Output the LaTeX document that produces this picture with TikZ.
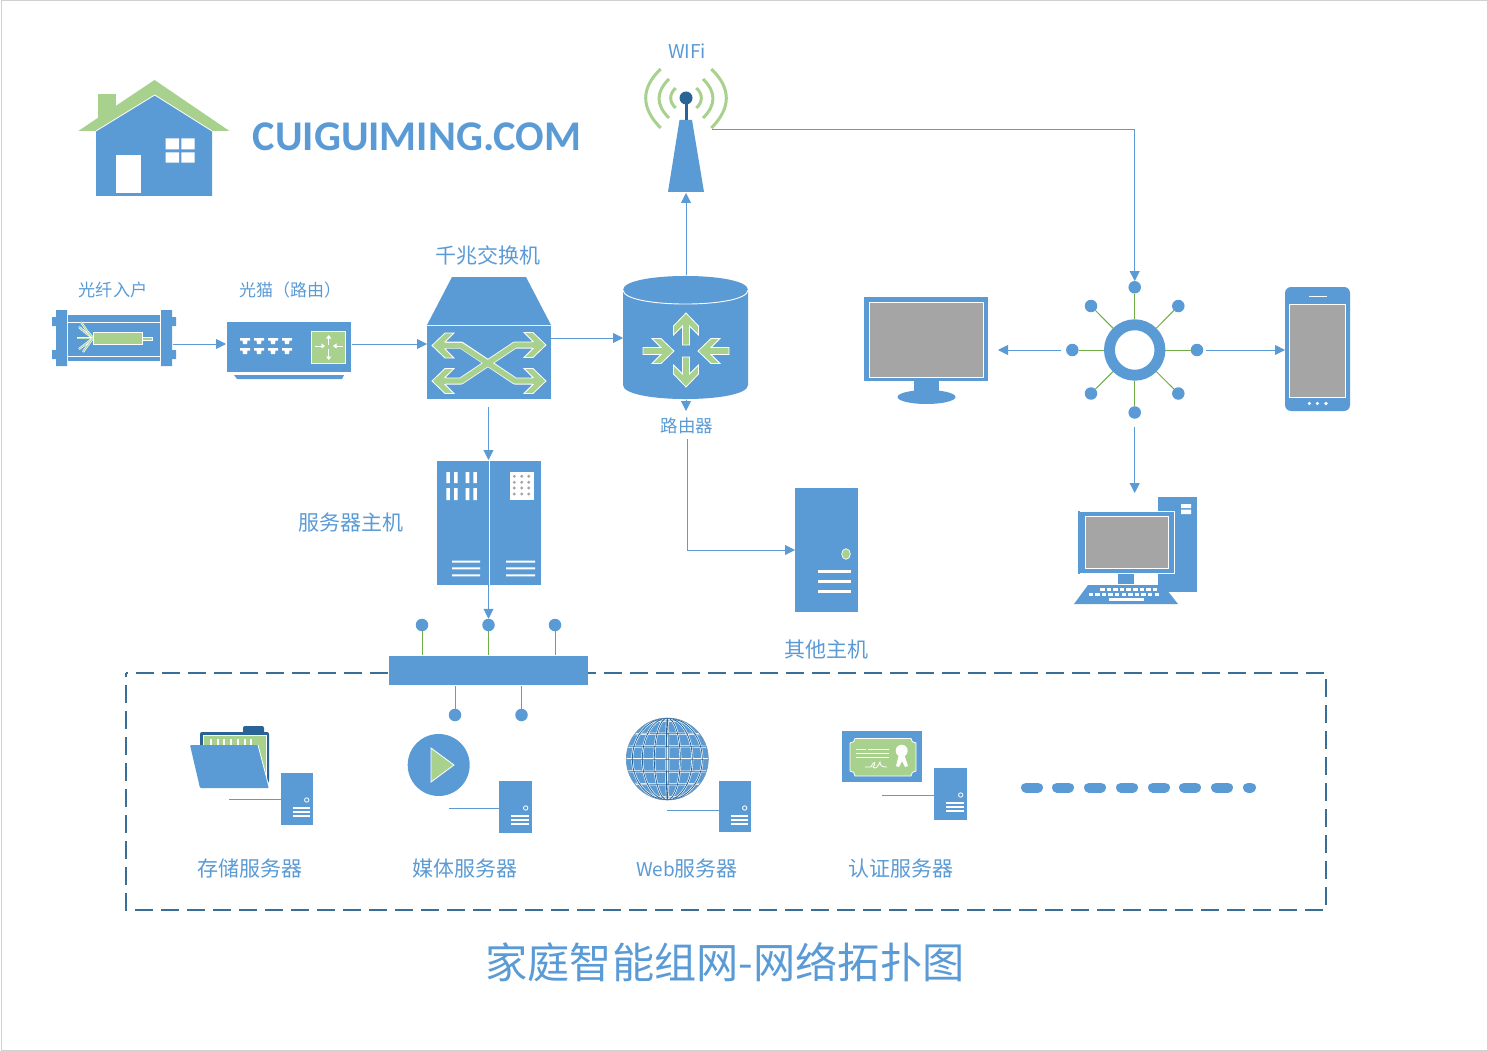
\documentclass[tikz,border=0pt]{standalone}
\usepackage{fontspec}
\setmainfont{Liberation Sans}
\newfontfamily\cjk{Noto Sans CJK SC}
\newfontfamily\carl{Carlito}
\usetikzlibrary{arrows.meta,calc}
\definecolor{mblue}{HTML}{5B9BD5}
\definecolor{mgreen}{HTML}{A9D18E}
\definecolor{sgreen}{HTML}{70AD47}
\definecolor{dblue}{HTML}{2A6496}
\definecolor{fgray}{HTML}{A5A5A5}
\definecolor{frame}{HTML}{3A6F95}
\tikzset{
  conn/.style={draw=mblue,line width=0.9pt,-{Triangle[length=10pt,width=10pt]}},
  plainconn/.style={draw=mblue,line width=0.9pt},
  gline/.style={draw=sgreen,line width=1pt},
  iconbox/.style={inner sep=0pt,outer sep=0pt,draw=none,fill=none,rectangle},
  dotnode/.style={circle,fill=mblue,draw=none,inner sep=0pt,outer sep=0pt,minimum size=12.5pt},
  gfill/.style={fill=mgreen,draw=white,line width=0.8pt,line join=miter},
  lbl/.style={text=mblue,inner sep=0pt,font=\cjk},
  whitebar/.style={fill=white,draw=none}
}
% invisible named box given by its corners
\newcommand\ibox[5]{\node[iconbox,minimum width={(#4-#2)*1pt},minimum height={(#5-#3)*1pt}] (#1) at ({(#2+#4)/2},{(#3+#5)/2}) {};}
% notched arrow: tip x, tip y, paper angle, length
\newcommand\ntch[4]{\draw[gfill,shift={(#1,#2)},rotate=#3] (0,0) -- (-13,-12.5) -- (-22,-12.5) -- (-13,-3.5) -- (-#4,-3.5) -- (-#4,3.5) -- (-13,3.5) -- (-22,12.5) -- (-13,12.5) -- cycle;}
% small server: x1 y1 x2 y2
\newcommand\srv[5]{\ibox{#1}{#2}{#3}{#4}{#5}
  \fill[mblue] (#2,#3) rectangle (#4,#5);
  \draw[white,line width=0.8pt] ({#4-6.3},{#3+27}) circle[radius=2.2pt];
  \fill[white] ({#2+12},{#3+34}) rectangle ({#4-3},{#3+35.6});
  \fill[white] ({#2+12},{#3+38}) rectangle ({#4-3},{#3+39.6});
  \fill[white] ({#2+12},{#3+42.2}) rectangle ({#4-3},{#3+43.8});}
\newcommand\fz[1]{\fontsize{#1}{#1}\selectfont}
\begin{document}
\begin{tikzpicture}[x=1pt,y=-1pt]
\useasboundingbox (0,0) rectangle (1488,1051);
\fill[white] (0,0) rectangle (1488,1051);
\draw[black!18,line width=1pt] (1,0.5) rectangle (1487,1050);

% ---------- house
\ibox{house}{78}{80}{230}{196}
\fill[mgreen] (98,94) rectangle (116,120);
\fill[mgreen] (78.3,131) -- (154.5,80) -- (229.5,131) -- cycle;
\fill[mblue] (96,196) -- (96,131) -- (154.7,95) -- (212,131) -- (212,196) -- cycle;
\draw[white,line width=0.8pt] (96,131) -- (154.7,95) -- (212,131);
\fill[white] (116,155) rectangle (140.7,192.7);
\fill[white] (165.7,138.3) rectangle (179,149.3) (181.3,138.3) rectangle (194.7,149.3) (165.7,152.3) rectangle (179,162.7) (181.3,152.3) rectangle (194.7,162.7);
\node[text=mblue,inner sep=0pt,font=\carl\bfseries\fz{42.3}] (brand) at (417,137) {CUIGUIMING.COM};

% ---------- fibre entry
\ibox{fiber}{52}{310}{173}{366}
\fill[mblue] (68,315) rectangle (160,361);
\fill[mblue] (56,310) rectangle (67,366) (161,310) rectangle (172,366);
\fill[mblue] (52,317) rectangle (56,326) (52,350) rectangle (56,359) (172,317) rectangle (176,326) (172,350) rectangle (176,359);
\draw[white,line width=0.8pt] (68,322) -- (160,322) (68,356) -- (160,356);
\foreach \a/\b/\c/\d in {77/338/86/338,79/327/86/333,81/322/87/331,79/349/87/343,83/352/88/345}{
  \draw[white,line width=2.2pt] (\a,\b) -- (\c,\d) -- (93,338);
  \draw[mgreen,line width=0.9pt] (\a,\b) -- (\c,\d) -- (93,338);}
\draw[gfill] (93,332) rectangle (142,344);
\draw[gfill] (142,337) rectangle (152,340);

% ---------- modem
\ibox{modem}{226}{322}{351}{372}
\fill[mblue] (227,322) rectangle (351,372);
\fill[mblue] (234,375) -- (344,375) -- (342,379) -- (237,379) -- cycle;
\foreach \x in {240,254,268,282}{\foreach \y in {338,348}{
  \fill[white] (\x,\y) -- (\x+10,\y) -- (\x+10,\y+2.5) -- (\x+7.5,\y+2.5) -- (\x+7,\y+6) -- (\x+3,\y+6) -- (\x+2.5,\y+2.5) -- (\x,\y+2.5) -- cycle;}}
\draw[gfill] (311,331) rectangle (345,363);
\foreach \a/\b/\c/\d in {328.7/345/328.7/335,328.7/349/328.7/360,315/346/325/346,343/346/333/346}{
  \draw[white,line width=1pt,-{Triangle[length=3.5pt,width=5pt]}] (\a,\b) -- (\c,\d);}

% ---------- switch
\ibox{switch}{427}{277}{551}{399}
\fill[mblue] (427,325) -- (452,277) -- (526,277) -- (551,325) -- cycle;
\fill[mblue] (427,326) rectangle (551,399);
\draw[white,line width=7pt,line join=round] (442,345) -- (461,345) -- (515,381) -- (536,381) (442,381) -- (461,381) -- (515,345) -- (536,345);
\ntch{432}{345.5}{180}{14}
\ntch{432}{381}{180}{14}
\ntch{546}{345}{0}{14}
\ntch{546}{381}{0}{14}
\draw[mgreen,line width=5.4pt,line join=round] (442,345.5) -- (461,345.5) -- (515,381) -- (538,381) (442,381) -- (461,381) -- (515,345) -- (538,345);

% ---------- router
\ibox{router}{623}{276}{748}{399}
\fill[mblue] (623,290) .. controls (623,271.3) and (748,271.3) .. (748,290) -- (748,385) .. controls (748,403.7) and (623,403.7) .. (623,385) -- cycle;
\draw[white,line width=0.9pt] (623,290) .. controls (623,308.7) and (748,308.7) .. (748,290);
\ntch{686}{313}{90}{32}
\ntch{686}{387}{-90}{30}
\ntch{674}{351}{0}{31}
\ntch{698}{351}{180}{31}

% ---------- wifi
\ibox{wifi}{645}{68}{712}{192}
\fill[mblue] (679.5,120) -- (692,120) -- (704,192) -- (668,192) -- cycle;
\fill[dblue] (684.5,100) rectangle (687.7,120);
\fill[dblue] (686,98) circle[radius=6.5pt];
\draw[mgreen,line width=3pt]
  (660.7,69) .. controls (640.7,88) and (640.7,108) .. (660.7,128)
  (669,79) .. controls (655.7,92) and (655.7,105) .. (669,118)
  (675.7,88) .. controls (669,94) and (669,102) .. (675.7,108)
  (711.3,69) .. controls (731.3,88) and (731.3,108) .. (711.3,128)
  (703,79) .. controls (716.3,92) and (716.3,105) .. (703,118)
  (696.3,88) .. controls (703,94) and (703,102) .. (696.3,108);
\node[lbl,font=\cjk\fz{19}] (wifil) at (687,51) {WIFi};

% ---------- twin server
\ibox{twin}{437}{461}{541}{585}
\fill[mblue] (437,461) rectangle (541,585);
\draw[white,line width=1pt] (489.5,461) -- (489.5,585);
\foreach \x in {446.3,454,465.7,473.3}{\fill[white] (\x,472) rectangle (\x+3.6,483) (\x,488) rectangle (\x+3.6,500);}
\foreach \y in {561.7,568.3,575.3}{\fill[white] (452,\y-1) rectangle (480,\y+1) (506,\y-1) rectangle (535,\y+1);}
\fill[white] (510,472) rectangle (534,500);
\foreach \x in {514.3,521.7,528.7}{\foreach \y in {476.3,482.3,488,494}{\fill[fgray] (\x,\y) circle[radius=1.6pt];}}

% ---------- other host
\ibox{other}{795}{488}{858}{612}
\fill[mblue] (795,488) rectangle (858,612);
\draw[fill=mgreen,draw=white,line width=0.7pt] (846,554) ellipse[x radius=4.3pt,y radius=5.3pt];
\foreach \y in {571,581,591}{\fill[white] (818,\y-1.5) rectangle (851,\y+1.5);}

% ---------- monitor
\ibox{monitor}{864}{297}{988}{404}
\fill[mblue] (864,297) rectangle (988,381);
\draw[fill=fgray,draw=white,line width=1pt] (869.5,302) rectangle (983.5,377);
\fill[mblue] (914,381) rectangle (939,392);
\fill[mblue] (926.5,397) ellipse[x radius=29pt,y radius=7pt];

% ---------- phone
\ibox{phone}{1285}{287}{1350}{411}
\fill[mblue,rounded corners=6pt] (1285,287) rectangle (1350,411);
\draw[fill=fgray,draw=white,line width=1pt] (1289.5,304) rectangle (1345.5,397);
\draw[white,line width=1pt] (1309,296) -- (1327,296);
\foreach \x in {1309.3,1317.3,1326}{\fill[white] (\x,403.5) circle[radius=1.8pt];}

% ---------- desktop
\ibox{pc}{1074}{493}{1197}{604}
\fill[mblue] (1158,497) rectangle (1197,592);
\fill[white] (1181,504) rectangle (1191,508) (1181,509.5) rectangle (1191,514);
\draw[fill=mblue,draw=white,line width=1pt] (1079,511) rectangle (1174.5,573.5);
\fill[mblue] (1078,510.5) rectangle (1079.5,574);
\draw[fill=fgray,draw=white,line width=1pt] (1085.5,516.5) rectangle (1168.5,568.5);
\fill[mblue] (1118,574) rectangle (1134,584);
\fill[mblue] (1088,585) -- (1163,585) -- (1178,604) -- (1074,604) -- cycle;
\foreach \i in {0,...,8}{\fill[white] ({1100+\i*6.6},587.5) rectangle ({1104.5+\i*6.6},590.5);}
\foreach \i in {0,...,10}{\fill[white] ({1088.5+\i*6.6},592.5) rectangle ({1093+\i*6.6},595.5);}
\fill[white] (1109,597.5) rectangle (1144,600.5);

% ---------- star
\node[circle,draw=mblue,fill=white,line width=10.9pt,minimum size=50.5pt,inner sep=0pt,outer sep=5.45pt] (ring) at (1134.7,350) {};
\foreach \n/\x/\y in {sn/1134.7/287.3,se/1197/350,ss/1134.7/412.5,sw/1072.3/350,sa/1091/306,sb/1178.3/306,sc/1091/393.5,sd/1178.3/393.5}{
  \node[dotnode] (\n) at (\x,\y) {};}
\foreach \n in {sn,se,ss,sw,sa,sb,sc,sd}{\draw[gline] (\n) -- (ring);}

% ---------- hub
\ibox{hub}{389}{656}{588}{685}
\foreach \n/\x/\y in {ha/422/625,hb/488.5/625,hc/555/625,hd/455/715,he/521.5/715}{
  \node[dotnode] (\n) at (\x,\y) {};}

% ---------- dashed frame
\draw[frame,line width=2pt,dash pattern=on 18pt off 8pt,dash phase=16pt] (126,673) -- (1326,673) -- (1326,910) -- (126,910) -- cycle;
\fill[mblue] (389,656) rectangle (588,685);
\draw[gline,shorten >=1pt] (ha) -- (ha |- hub.north);
\draw[gline,shorten >=1pt] (hb) -- (hb |- hub.north);
\draw[gline,shorten >=1pt] (hc) -- (hc |- hub.north);
\draw[gline,shorten >=1pt] (hd) -- (hd |- hub.south);
\draw[gline,shorten >=1pt] (he) -- (he |- hub.south);

% ---------- folder
\ibox{folder}{190}{726}{270}{788}
\fill[dblue,rounded corners=2pt] (243,726) rectangle (264,736);
\fill[dblue,rounded corners=2pt] (200,732) rectangle (269,783);
\draw[gfill] (203.5,735.5) rectangle (266.5,782);
\foreach \i in {0,...,6}{\fill[white] ({210+\i*6.7},739) rectangle ({212+\i*6.7},745);}
\draw[fill=mblue,draw=none,rounded corners=1pt] (190,745) -- (258,745) -- (269,788) -- (200,788) -- cycle;
\draw[white,line width=0.8pt] (258,745) -- (269,787);
\srv{srva}{281}{773}{313}{825}
\coordinate (fa) at (229,799);
\draw[plainconn] (fa) -- (srva.west |- fa);

% ---------- media
\node[circle,fill=mblue,minimum size=62pt,inner sep=0pt,outer sep=0pt] (media) at (438.7,765) {};
\draw[gfill] (431,748) -- (454,765) -- (431,782) -- cycle;
\srv{srvb}{499}{781}{532}{833}
\coordinate (fb) at (449,808);
\draw[plainconn] (fb) -- (srvb.west |- fb);

% ---------- globe
\node[circle,fill=mblue,minimum size=82pt,inner sep=0pt,outer sep=0pt] (globe) at (667.3,759) {};
\begin{scope}
\clip (667.3,759) circle[radius=41pt];
\foreach \r in {1,13,25,35}{
  \draw[white,line width=2pt] (667.3,759) ellipse[x radius=\r pt,y radius=41pt];}
\foreach \d in {-36,-24,-12,0,12,24,36}{
  \draw[white,line width=2pt] (620,759+\d) .. controls (650,{759+\d*1.08}) and (685,{759+\d*1.08}) .. (715,759+\d);}
\foreach \r in {1,13,25,35}{
  \draw[dblue,line width=0.8pt] (667.3,759) ellipse[x radius=\r pt,y radius=41pt];}
\foreach \d in {-36,-24,-12,0,12,24,36}{
  \draw[dblue,line width=0.5pt] (620,759+\d) .. controls (650,{759+\d*1.08}) and (685,{759+\d*1.08}) .. (715,759+\d);}
\end{scope}
\draw[dblue!70!white,line width=0.6pt] (667.3,759) circle[radius=41pt];
\srv{srvc}{719}{781}{751}{832}
\coordinate (fc) at (667,810);
\draw[plainconn] (fc) -- (srvc.west |- fc);

% ---------- certificate
\ibox{cert}{842}{731}{922}{782}
\fill[mblue] (842,731) rectangle (922,782);
\draw[gfill] (855,738.5) -- (911,738.5) .. controls (911,741) and (913,743) .. (916,743) -- (916,771) .. controls (913,771) and (911,773) .. (911,776) -- (855,776) .. controls (855,773) and (853,771) .. (850,771) -- (850,743) .. controls (853,743) and (855,741) .. (855,738.5) -- cycle;
\draw[white,line width=0.8pt] (856,749) -- (866,749) (868,749) -- (889,749) (856,753) -- (889,753) (856,757) -- (889,757);
\fill[white] (901.7,750.7) circle[radius=6pt];
\fill[white] (899,754) -- (896,766) -- (899,767) -- (902,761) -- (905,767) -- (908,766) -- (904,754) -- cycle;
\draw[white,line width=0.8pt] (865,767) -- (871,767) .. controls (874,760) and (877,762) .. (873,767) .. controls (876,770) and (878,766) .. (880,762) .. controls (880,766) and (882,767) .. (887,767);
\srv{srvd}{934}{768}{967}{820}
\coordinate (fd) at (882,795);
\draw[plainconn] (fd) -- (srvd.west |- fd);

% ---------- ellipsis dashes
\foreach \c in {1032,1063,1095,1127,1159,1190,1222}{
  \draw[mblue,line width=10pt,line cap=round] (\c-6,787.5) -- (\c+6,787.5);}
\draw[mblue,line width=10pt,line cap=round] (1248,787.5) -- (1251,787.5);

% ---------- text
\node[lbl,font=\cjk\fz{17.2}] (tfiber) at (113,290) {光纤入户};
\node[lbl,font=\cjk\fz{17}] (tmodem) at (290,290) {光猫（路由）};
\node[lbl,font=\cjk\fz{21}] (tswitch) at (488,255) {千兆交换机};
\node[lbl,font=\cjk\fz{17.5}] (trouter) at (687,426) {路由器};
\node[lbl,font=\cjk\fz{21}] (ttwin) at (351,523) {服务器主机};
\node[lbl,font=\cjk\fz{21}] (tother) at (826,650) {其他主机};
\node[lbl,font=\cjk\fz{21}] (ta) at (250,869) {存储服务器};
\node[lbl,font=\cjk\fz{21}] (tb) at (465,869) {媒体服务器};
\node[lbl,font=\cjk\fz{21}] (tc) at (687,869) {{\fz{19}Web}服务器};
\node[lbl,font=\cjk\fz{21}] (td) at (901,869) {认证服务器};
\node[lbl,font=\cjk\fz{42.2}] (title) at (725,962) {家庭智能组网-网络拓扑图};

% ---------- connectors
\draw[conn] (fiber.east |- 0,344) -- (modem.west |- 0,344);
\draw[conn] (351.5,344) -- (switch.west |- 0,344);
\draw[conn] (switch.east |- 0,338) -- (router.west |- 0,338);
\draw[conn] (686,275) -- (686,193);
\draw[conn] (686,399.5) -- (686,411);
\draw[conn,shorten <=5pt] (trouter.south -| 687.5,0) -- (687.5,550) -- (other.west |- 0,550);
\draw[conn,shorten <=8pt] (switch.south -| 488.5,0) -- (488.5,460);
\draw[conn] (twin.south -| 488.5,0) -- (hb.north);
\draw[conn] (712,129) -- (1134.7,129) -- (sn.north);
\draw[conn,shorten <=5pt,shorten >=10pt] (sw.west) -- (monitor.east |- sw);
\draw[conn,shorten <=3pt] (se.east) -- (phone.west |- se);
\draw[conn,shorten <=8pt] (ss.south) -- (pc.north -| ss);
\end{tikzpicture}
\end{document}
